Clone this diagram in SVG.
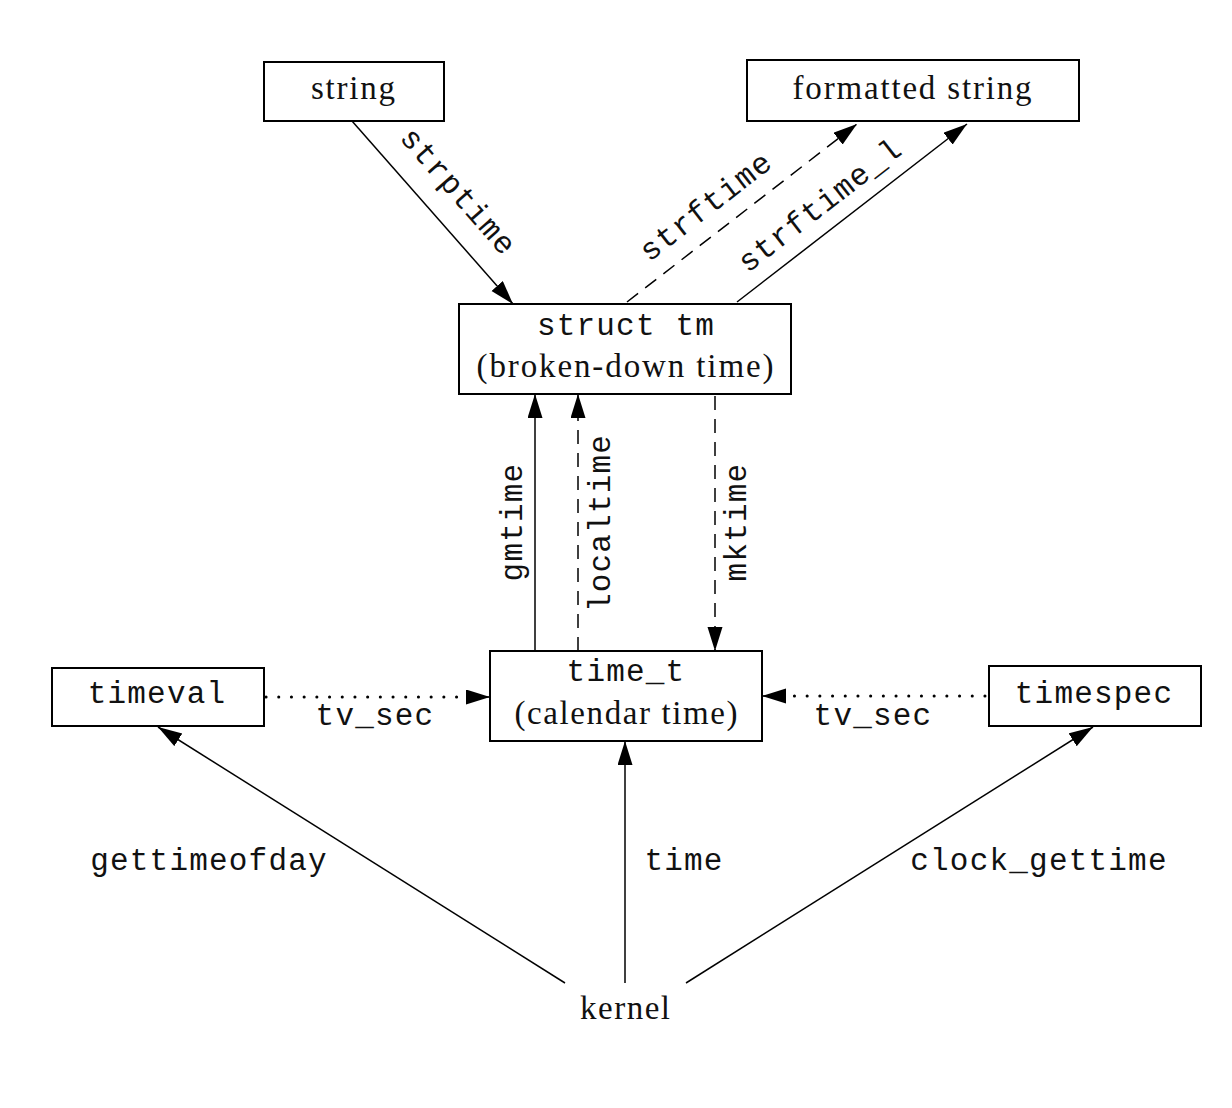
<svg xmlns="http://www.w3.org/2000/svg" width="1232" height="1108" viewBox="0 0 1232 1108">
<style>
.box{fill:#fff;stroke:#000;stroke-width:2}
.serif{font-family:"Liberation Serif","Times New Roman",serif;font-size:33px;fill:#111;text-anchor:middle}
.mono{font-family:"Liberation Mono","Courier New",monospace;font-size:31px;letter-spacing:1.2px;fill:#111;text-anchor:middle}
.c{fill:none;stroke:#000;stroke-width:1.5}
.dash{stroke-dasharray:14 9}
.dot{stroke-width:3;stroke-linecap:round;stroke-dasharray:0.1 12.6}
</style>
<defs>
<marker id="ah" markerUnits="userSpaceOnUse" markerWidth="26" markerHeight="16" refX="24" refY="7.5" orient="auto">
<path d="M0,0 L24,7.5 L0,15 z" fill="#000"/>
</marker>
</defs>
<rect width="1232" height="1108" fill="#fff"/>
<g id="connectors">
<line class="c" x1="352" y1="121" x2="513" y2="304" marker-end="url(#ah)"/>
<line class="c dash" x1="627" y1="302" x2="857" y2="124" marker-end="url(#ah)"/>
<line class="c" x1="737" y1="302" x2="967" y2="124" marker-end="url(#ah)"/>
<line class="c" x1="535" y1="651" x2="535" y2="394" marker-end="url(#ah)"/>
<line class="c dash" x1="578" y1="651" x2="578" y2="394" marker-end="url(#ah)"/>
<line class="c dash" x1="715" y1="396" x2="715" y2="651" marker-end="url(#ah)"/>
<line class="c dot" x1="266" y1="697" x2="466" y2="697"/>
<line class="c" x1="466" y1="697" x2="490" y2="697" marker-end="url(#ah)"/>
<line class="c dot" x1="985" y1="696" x2="786" y2="696"/>
<line class="c" x1="786" y1="696" x2="762" y2="696" marker-end="url(#ah)"/>
<line class="c" x1="565" y1="983" x2="158" y2="727" marker-end="url(#ah)"/>
<line class="c" x1="625" y1="983" x2="625" y2="741" marker-end="url(#ah)"/>
<line class="c" x1="686" y1="983" x2="1093" y2="727" marker-end="url(#ah)"/>
<text class="mono" transform="translate(451,198) rotate(48.7)">strptime</text>
<text class="mono" transform="translate(712,214) rotate(-37.7)">strftime</text>
<text class="mono" transform="translate(826,213) rotate(-37.7)">strftime_l</text>
<text class="mono" transform="translate(522,522) rotate(-90)">gmtime</text>
<text class="mono" transform="translate(610,523) rotate(-90)">localtime</text>
<text class="mono" transform="translate(746,522) rotate(-90)">mktime</text>
<text class="mono" x="375" y="725">tv_sec</text>
<text class="mono" x="873" y="725">tv_sec</text>
<text class="mono" x="209" y="870">gettimeofday</text>
<text class="mono" x="684" y="870">time</text>
<text class="mono" x="1039" y="870">clock_gettime</text>
</g>
<g id="string">
<rect class="box" x="264" y="62" width="180" height="59"/>
<text class="serif" x="353" y="99" textLength="84">string</text>
</g>
<g id="formatted-string">
<rect class="box" x="747" y="60" width="332" height="61"/>
<text class="serif" x="912" y="99" textLength="239">formatted string</text>
</g>
<g id="struct-tm">
<rect class="box" x="459" y="304" width="332" height="90"/>
<text class="mono" x="626" y="335">struct tm</text>
<text class="serif" x="625" y="377" textLength="297">(broken-down time)</text>
</g>
<g id="time-t">
<rect class="box" x="490" y="651" width="272" height="90"/>
<text class="mono" x="626" y="681">time_t</text>
<text class="serif" x="626" y="724" textLength="223">(calendar time)</text>
</g>
<g id="timeval">
<rect class="box" x="52" y="668" width="212" height="58"/>
<text class="mono" x="157" y="703">timeval</text>
</g>
<g id="timespec">
<rect class="box" x="989" y="666" width="212" height="60"/>
<text class="mono" x="1094" y="703">timespec</text>
</g>
<g id="kernel">
<text class="serif" x="625" y="1019" textLength="90">kernel</text>
</g>
</svg>
